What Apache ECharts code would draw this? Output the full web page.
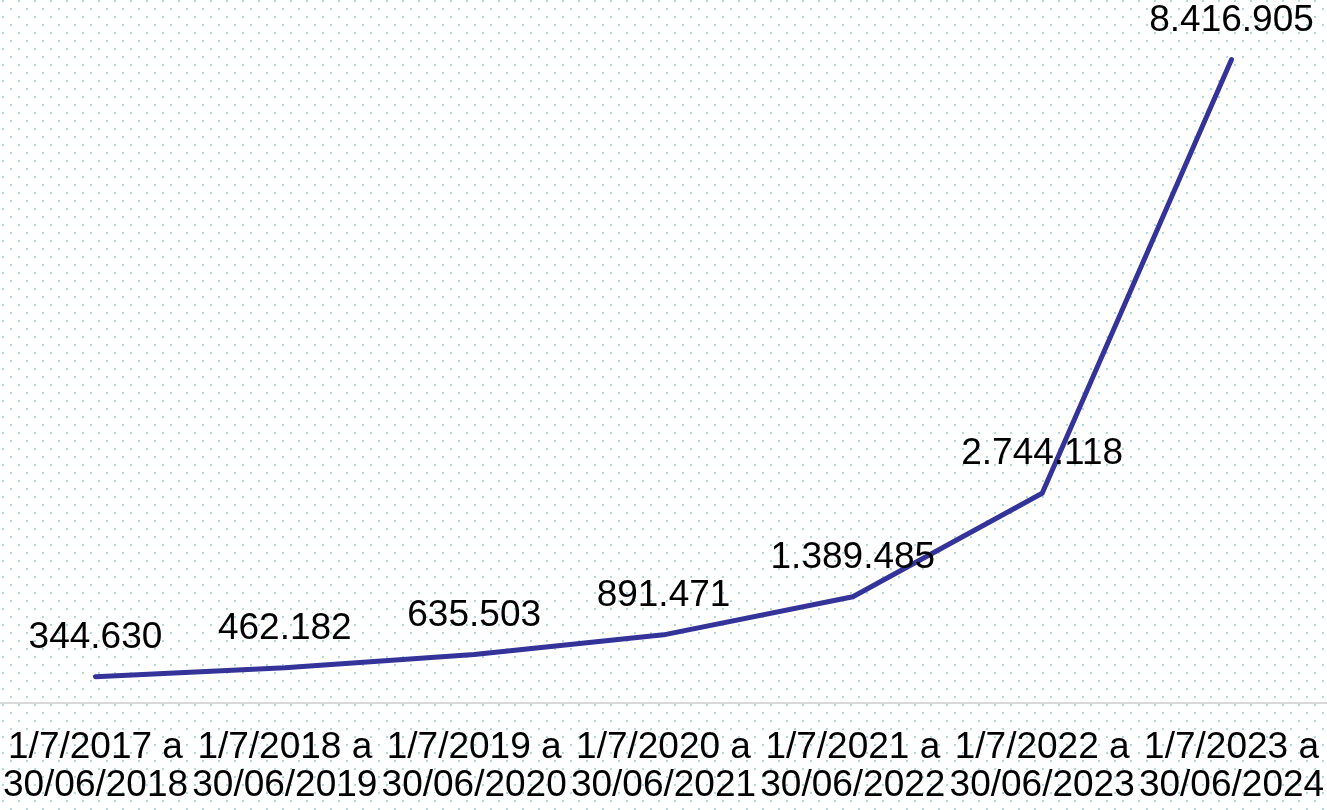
<!DOCTYPE html>
<html>
<head>
<meta charset="utf-8">
<script src="https://cdn.jsdelivr.net/npm/echarts@6/dist/echarts.min.js"></script>
<style>
  html, body { margin: 0; padding: 0; background: #fff; }
  #main { width: 1327px; height: 810px; }
</style>
</head>
<body>
<div id="main"></div>
<script>
// períodos (1º de julho a 30 de junho)
const periodos = [
  '1/7/2017 a\n30/06/2018',
  '1/7/2018 a\n30/06/2019',
  '1/7/2019 a\n30/06/2020',
  '1/7/2020 a\n30/06/2021',
  '1/7/2021 a\n30/06/2022',
  '1/7/2022 a\n30/06/2023',
  '1/7/2023 a\n30/06/2024'
];
const valores = [344630, 462182, 635503, 891471, 1389485, 2744118, 8416905];

// fundo pontilhado
const tile = document.createElement('canvas');
tile.width = 16;
tile.height = 16;
const ctx = tile.getContext('2d');
ctx.fillStyle = '#fff';
ctx.fillRect(0, 0, 16, 16);
ctx.fillStyle = '#aed8dd';
ctx.fillRect(2, 0, 2, 2);
ctx.fillRect(10, 8, 2, 2);

function fmt(v) {
  return String(v).replace(/\B(?=(\d{3})+(?!\d))/g, '.');
}

const myChart = echarts.init(document.getElementById('main'));
myChart.setOption({
  backgroundColor: { image: tile, repeat: 'repeat' },
  animation: false,
  textStyle: { fontFamily: 'Liberation Sans, Arial, sans-serif' },
  grid: { left: 0, right: 0, top: 15, bottom: 107 },
  xAxis: {
    type: 'category',
    data: periodos,
    boundaryGap: true,
    axisLine: { lineStyle: { color: '#d9d9d9', width: 2 } },
    axisTick: { show: false },
    axisLabel: {
      interval: 0,
      color: '#000',
      fontSize: 37,
      lineHeight: 38,
      margin: 26
    }
  },
  yAxis: {
    type: 'value',
    min: 0,
    max: 9000000,
    show: false,
    splitLine: { show: false }
  },
  series: [{
    type: 'line',
    data: valores,
    showSymbol: true,
    symbol: 'circle',
    symbolSize: 1,
    itemStyle: { color: 'rgba(0,0,0,0)' },
    lineStyle: { color: '#333399', width: 5, cap: 'round', join: 'round' },
    label: {
      show: true,
      position: 'top',
      distance: 20,
      color: '#000',
      fontSize: 37,
      formatter: p => fmt(p.value)
    }
  }]
});
</script>
</body>
</html>
